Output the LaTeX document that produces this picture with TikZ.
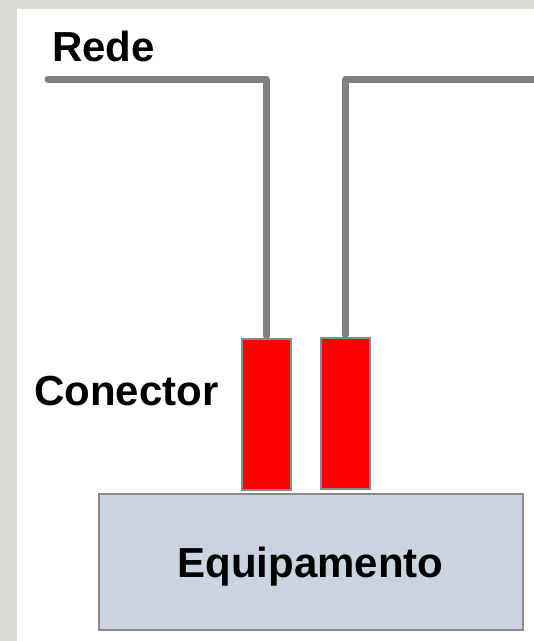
\documentclass[tikz,border=0pt]{standalone}
\usepackage{fontspec}
\setmainfont{Liberation Sans}
\definecolor{wiregray}{HTML}{808080}
\definecolor{bordergray}{HTML}{8A8A8A}
\definecolor{equipfill}{HTML}{CCD3E0}
\definecolor{texture}{HTML}{DADAD6}
\tikzset{
  lbl/.style={font=\fontsize{42}{42}\selectfont\bfseries, inner sep=0pt, anchor=base west},
  plug/.style={draw=bordergray, line width=2.5pt, fill=red, minimum width=49pt, minimum height=151pt, inner sep=0pt},
  equip/.style={draw=bordergray, line width=2pt, fill=equipfill, minimum width=424pt, minimum height=136pt, inner sep=0pt},
  wire/.style={draw=wiregray, line width=7pt, line cap=round, line join=round}
}
\begin{document}
\begin{tikzpicture}[x=1pt,y=-1pt]
\useasboundingbox (0,0) rectangle (534,641);
\fill[texture] (0,0) rectangle (534,641);
\fill[white] (17,9) rectangle (534,641);
\node[lbl] (rede) at (52,61) {Rede};
\node[lbl] (conector) at (34,405) {Conector};
\node[plug] (c1) at (266.5,414.5) {};
\node[plug] (c2) at (345.5,413.5) {};
\node[equip] (eq) at (310.5,561.5) {};
\node[font=\fontsize{42}{42}\selectfont\bfseries, inner sep=0pt, anchor=base] (eqt) at (310.5,577) {Equipamento};
\coordinate (wl) at (48,79);
\coordinate (wr) at (540,79);
\draw[wire] (wl) -| ([yshift=2pt]c1.north);
\draw[wire] (wr) -| ([yshift=2pt]c2.north);
\end{tikzpicture}
\end{document}
